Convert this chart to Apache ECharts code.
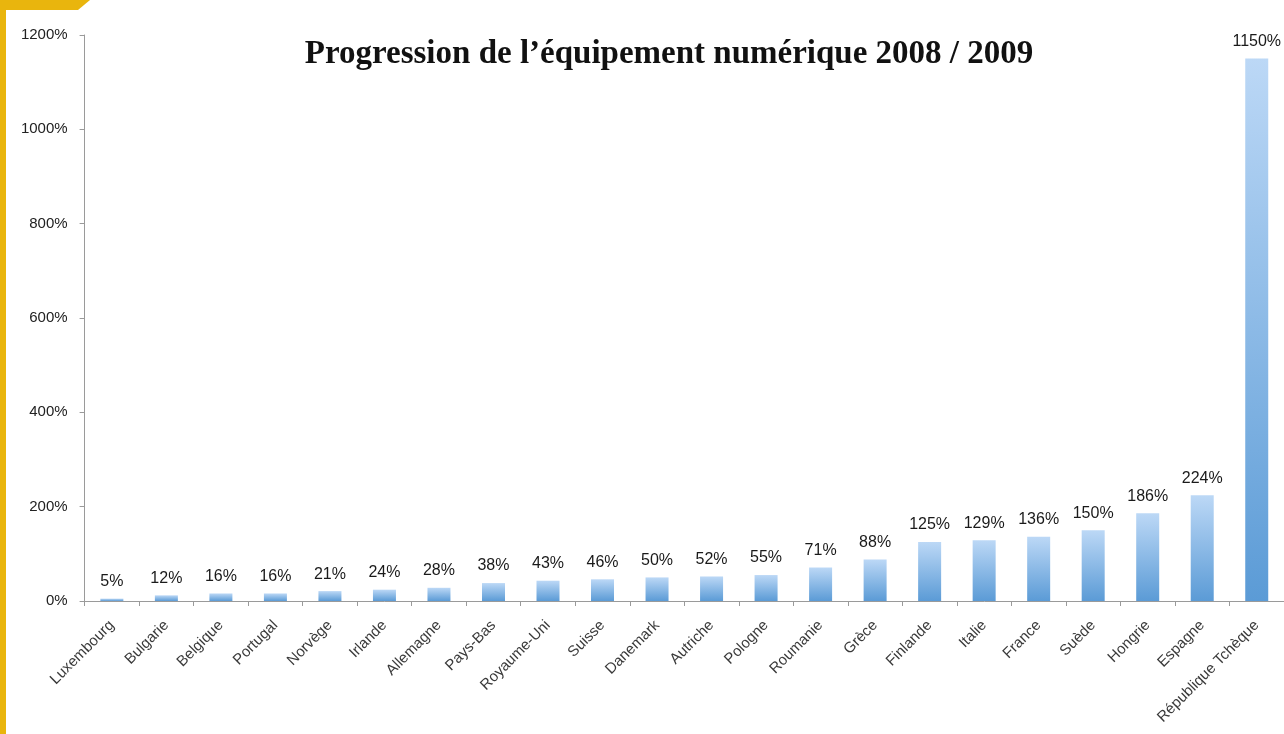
<!DOCTYPE html>
<html>
<head>
<meta charset="utf-8">
<script src="https://cdn.jsdelivr.net/npm/echarts@6/dist/echarts.min.js"></script>
<style>
html,body{margin:0;padding:0;background:#fff;}
#chart{width:1284px;height:734px;}
</style>
</head>
<body>
<div id="chart"></div>
<script>
const titleText = "Progression de l\u2019équipement numérique 2008 / 2009";
const countries = ["Luxembourg","Bulgarie","Belgique","Portugal","Norvège","Irlande","Allemagne","Pays-Bas","Royaume-Uni","Suisse","Danemark","Autriche","Pologne","Roumanie","Grèce","Finlande","Italie","France","Suède","Hongrie","Espagne","République Tchèque"];
const progression = [5,12,16,16,21,24,28,38,43,46,50,52,55,71,88,125,129,136,150,186,224,1150];
const yTicks = { min: 0, max: 1200, interval: 200 };

const chart = echarts.init(document.getElementById('chart'), null, {renderer:'canvas'});
chart.setOption({
  backgroundColor: '#ffffff',
  animation: false,
  title: {
    text: titleText,
    left: 664, top: 33, textAlign: 'center',
    textStyle: { fontFamily: 'Liberation Serif', fontWeight: 'bold', fontSize: 33, color: '#111' }
  },
  graphic: [
    { type: 'rect', shape: { x: 0, y: 0, width: 6, height: 734 }, style: { fill: '#e9b50d' }, z: 100 },
    { type: 'polygon', shape: { points: [[0,0],[90,0],[78,10],[0,10]] }, style: { fill: '#e9b50d' }, z: 100 }
  ],
  grid: { left: 84.6, right: -5, top: 35, bottom: 133, containLabel: false },
  xAxis: {
    type: 'category',
    data: countries,
    axisLine: { lineStyle: { color: '#9a9a9a', width: 1 } },
    axisTick: { show: true, length: 5, lineStyle: { color: '#9a9a9a' } },
    axisLabel: { rotate: 45, margin: 22, fontFamily: 'Liberation Sans', fontSize: 15, color: '#3a3a3a', interval: 0 }
  },
  yAxis: {
    type: 'value',
    min: yTicks.min, max: yTicks.max, interval: yTicks.interval,
    axisLine: { show: true, lineStyle: { color: '#9a9a9a', width: 1 } },
    axisTick: { show: true, length: 5, lineStyle: { color: '#9a9a9a' } },
    splitLine: { show: false },
    axisLabel: { formatter: function (v) { return v + '%'; }, margin: 17, fontFamily: 'Liberation Sans', fontSize: 15, color: '#222' }
  },
  series: [{
    type: 'bar',
    data: progression,
    barWidth: 23,
    itemStyle: {
      color: new echarts.graphic.LinearGradient(0, 0, 0, 1, [
        { offset: 0, color: '#bcd8f6' },
        { offset: 1, color: '#5b9bd6' }
      ])
    },
    label: {
      show: true, position: 'top', distance: 9,
      formatter: '{c}%',
      fontFamily: 'Liberation Sans', fontSize: 16, color: '#1a1a1a'
    }
  }]
});
</script>
</body>
</html>
